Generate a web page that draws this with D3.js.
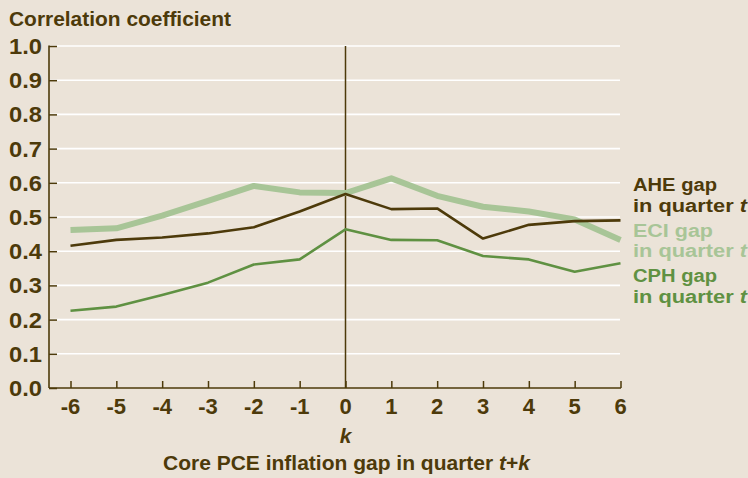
<!DOCTYPE html>
<html><head><meta charset="utf-8">
<script src="https://cdn.jsdelivr.net/npm/d3@7"></script>
<style>
html,body{margin:0;padding:0;background:#ebe3d8;}
svg{display:block;}
text{font-family:"Liberation Sans Narrow","Liberation Sans",Arial,sans-serif;font-weight:bold;fill:#4d3a0a;}
</style></head>
<body>
<script>
const kValues = [-6,-5,-4,-3,-2,-1,0,1,2,3,4,5,6];
const aheValues = [0.416,0.433,0.440,0.452,0.470,0.516,0.567,0.523,0.525,0.437,0.477,0.488,0.490];
const eciValues = [0.462,0.467,0.504,0.547,0.591,0.572,0.570,0.613,0.562,0.530,0.516,0.493,0.433];
const cphValues = [0.226,0.238,0.272,0.308,0.361,0.376,0.464,0.433,0.432,0.386,0.376,0.340,0.365];
const yTicks = [0,0.1,0.2,0.3,0.4,0.5,0.6,0.7,0.8,0.9,1.0];

const W=748,H=478;
const dark="#4d3a0a", eciCol="#a8c597", cphCol="#5f9142";
const svg=d3.select("body").append("svg").attr("width",W).attr("height",H);
svg.append("rect").attr("width",W).attr("height",H).attr("fill","#ebe3d8");

const x=d3.scaleLinear().domain([-6,6]).range([70.5,620.5]);
const y=d3.scaleLinear().domain([0,1]).range([388,46]);
const x0=49, x1=620;

// gridlines
svg.append("g").selectAll("line").data(yTicks.filter(d=>d>0)).join("line")
  .attr("x1",x0).attr("x2",x1).attr("y1",d=>y(d)).attr("y2",d=>y(d))
  .attr("stroke","#ffffff").attr("stroke-width",1.6);

// y axis
const yAxis=d3.axisRight(y).tickValues(yTicks).tickSize(8).tickFormat("");
const gy=svg.append("g").attr("transform",`translate(${x0},0)`).call(yAxis);
gy.select(".domain").remove();
gy.selectAll(".tick line").attr("stroke",dark).attr("stroke-width",1.5);
svg.append("line").attr("x1",x0).attr("x2",x0).attr("y1",y(1)-0.5).attr("y2",y(0)).attr("stroke",dark).attr("stroke-width",1.6);
svg.append("g").selectAll("text").data(yTicks).join("text")
  .attr("x",42).attr("y",d=>y(d)).attr("dy","0.36em").attr("text-anchor","end")
  .style("font-size","22px").attr("textLength",33).attr("lengthAdjust","spacingAndGlyphs")
  .text(d=>d.toFixed(1));

// x axis
const xAxis=d3.axisTop(x).tickValues(kValues).tickSize(7).tickFormat("");
const gx=svg.append("g").attr("transform",`translate(0,${y(0)})`).call(xAxis);
gx.select(".domain").remove();
gx.selectAll(".tick line").attr("stroke",dark).attr("stroke-width",1.5);
svg.append("line").attr("x1",x0).attr("x2",x1+1).attr("y1",y(0)).attr("y2",y(0)).attr("stroke",dark).attr("stroke-width",1.6);
svg.append("g").selectAll("text").data(kValues).join("text")
  .attr("x",d=>x(d)).attr("y",414).attr("text-anchor","middle")
  .style("font-size","22px").text(d=>d);

// vertical zero line
svg.append("line").attr("x1",x(0)).attr("x2",x(0)).attr("y1",y(1)).attr("y2",y(0))
  .attr("stroke",dark).attr("stroke-width",1.5);

// series
const line=d3.line().x((d,i)=>x(kValues[i])).y(d=>y(d));
svg.append("path").datum(eciValues).attr("d",line).attr("fill","none").attr("stroke",eciCol).attr("stroke-width",6).attr("stroke-linejoin","round");
svg.append("path").datum(cphValues).attr("d",line).attr("fill","none").attr("stroke",cphCol).attr("stroke-width",2.6).attr("stroke-linejoin","round");
svg.append("path").datum(aheValues).attr("d",line).attr("fill","none").attr("stroke",dark).attr("stroke-width",2.6).attr("stroke-linejoin","round");

// title
svg.append("text").attr("x",9).attr("y",26).style("font-size","21px")
  .attr("textLength",222).attr("lengthAdjust","spacingAndGlyphs").text("Correlation coefficient");

// legend
const legend=[
  {t:"AHE gap",c:dark,y1:191,y2:211.5},
  {t:"ECI gap",c:eciCol,y1:236.5,y2:257},
  {t:"CPH gap",c:cphCol,y1:282,y2:302.5}
];
legend.forEach(l=>{
  svg.append("text").attr("x",633).attr("y",l.y1).style("font-size","18px").style("fill",l.c)
    .attr("textLength",l.t==="ECI gap"?80:84).attr("lengthAdjust","spacingAndGlyphs").text(l.t);
  const t2=svg.append("text").attr("x",633).attr("y",l.y2).style("font-size","18px").style("fill",l.c)
    .attr("textLength",114).attr("lengthAdjust","spacingAndGlyphs");
  t2.append("tspan").text("in quarter ");
  t2.append("tspan").style("font-style","italic").text("t");
});

// x axis titles
svg.append("text").attr("x",x(0)).attr("y",443).attr("text-anchor","middle")
  .style("font-size","21px").style("font-style","italic").text("k");
const xt=svg.append("text").attr("x",x(0)+1).attr("y",470).attr("text-anchor","middle")
  .style("font-size","21px").attr("textLength",367).attr("lengthAdjust","spacingAndGlyphs");
xt.append("tspan").text("Core PCE inflation gap in quarter ");
xt.append("tspan").style("font-style","italic").text("t");
xt.append("tspan").text("+");
xt.append("tspan").style("font-style","italic").text("k");
</script>
</body></html>
